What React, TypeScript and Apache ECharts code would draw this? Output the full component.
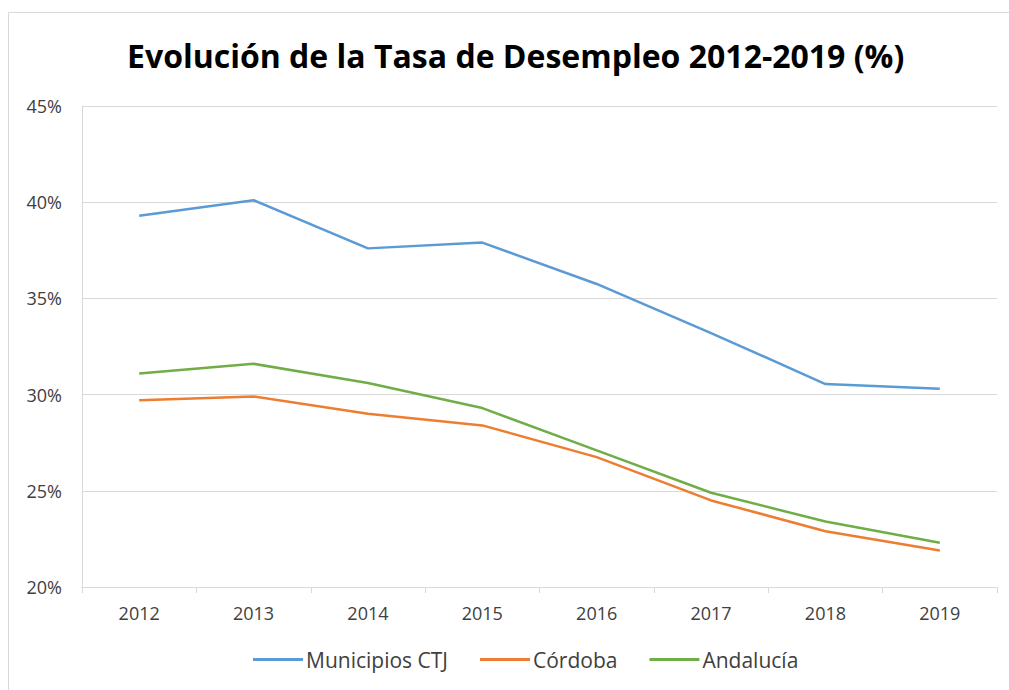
import React, { useEffect, useRef } from "react";
import * as echarts from "echarts";

const years = ["2012", "2013", "2014", "2015", "2016", "2017", "2018", "2019"];
const municipiosCTJ = [39.3, 40.1, 37.6, 37.9, 35.75, 33.2, 30.55, 30.3];
const cordoba = [29.7, 29.9, 29.0, 28.4, 26.75, 24.5, 22.9, 21.9];
const andalucia = [31.1, 31.6, 30.6, 29.3, 27.1, 24.9, 23.4, 22.3];

const seriesNames = ["Municipios CTJ", "Córdoba", "Andalucía"];
const seriesColors = ["#5B9BD5", "#ED7D31", "#70AD47"];

export default function App() {
  const ref = useRef<HTMLDivElement>(null);
  useEffect(() => {
    if (!ref.current) return;
    const chart = echarts.init(ref.current, null, { renderer: "svg" });
    const font = "Open Sans";
    const datasets = [municipiosCTJ, cordoba, andalucia];
    chart.setOption({
      animation: false,
      backgroundColor: "#ffffff",
      textStyle: { fontFamily: font },
      graphic: [
        {
          type: "rect",
          shape: { x: 8.5, y: 12.5, width: 1010, height: 690 },
          style: { fill: "none", stroke: "#d9d9d9", lineWidth: 1 },
          silent: true,
        },
      ],
      title: {
        text: "Evolución de la Tasa de Desempleo 2012-2019 (%)",
        left: 122,
        top: 34,
        textStyle: {
          fontFamily: font,
          fontSize: 32,
          fontWeight: "bold",
          color: "#000000",
        },
      },
      legend: {
        bottom: 15,
        left: 248,
        itemWidth: 50,
        itemHeight: 3,
        itemGap: 32,
        icon: "rect",
        textStyle: { fontFamily: font, fontSize: 21, color: "#404040", padding: [0, 0, 0, -2] },
        data: seriesNames,
      },
      grid: { left: 82, right: 12, top: 106, bottom: 103 },
      xAxis: {
        type: "category",
        data: years,
        boundaryGap: true,
        axisLine: { lineStyle: { color: "#d9d9d9", width: 1 } },
        axisTick: { show: true, length: 6, lineStyle: { color: "#d9d9d9" } },
        axisLabel: { color: "#404040", fontSize: 18, margin: 17, fontFamily: font },
      },
      yAxis: {
        type: "value",
        min: 20,
        max: 45,
        interval: 5,
        axisLine: { show: true, lineStyle: { color: "#d9d9d9" } },
        axisTick: { show: false },
        splitLine: { lineStyle: { color: "#d9d9d9", width: 1 } },
        axisLabel: {
          color: "#404040",
          fontSize: 18,
          margin: 20,
          fontFamily: font,
          formatter: (v: number) => v + "%",
        },
      },
      series: seriesNames.map((name, i) => ({
        name,
        type: "line",
        data: datasets[i],
        symbol: "none",
        lineStyle: { color: seriesColors[i], width: 2.5 },
        itemStyle: { color: seriesColors[i] },
      })),
    });
    return () => chart.dispose();
  }, []);
  return (
    <div
      ref={ref}
      style={{ position: "fixed", left: 0, top: 0, width: 1009, height: 690 }}
    />
  );
}
